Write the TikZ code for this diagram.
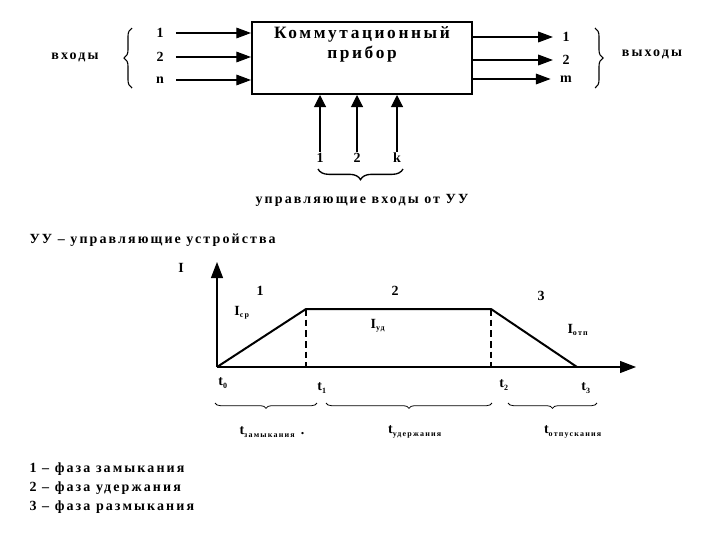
\documentclass[tikz,border=0pt]{standalone}
\usepackage{fontspec}
\setmainfont{Liberation Serif}[LetterSpace=15]
\usetikzlibrary{arrows.meta,positioning,decorations.pathreplacing}
\newcommand{\tsub}[1]{\textsubscript{\fontsize{6}{7}\selectfont #1}}
\tikzset{
  lbl/.style={font=\bfseries\fontsize{10.5}{12}\selectfont, inner sep=1pt},
  ttl/.style={font=\bfseries\fontsize{13}{15}\selectfont, align=center, inner sep=1pt},
  dev/.style={draw, line width=1.5pt, rectangle, minimum width=165pt, minimum height=54pt},
  arr/.style={-{Triangle[length=11pt,width=8pt]}, line width=0.8pt},
  carr/.style={-{Triangle[length=9pt,width=9pt]}, line width=0.8pt},
  axis/.style={-{Triangle[length=12pt,width=9pt]}, line width=0.8pt},
  curve/.style={line width=1.5pt},
  dsh/.style={dashed, line width=1.5pt, dash pattern=on 5pt off 3pt},
  brc/.style={decorate, decoration={brace, amplitude=6pt}, line width=0.8pt},
  cbrc/.style={decorate, decoration={brace, amplitude=8pt}, line width=1pt},
  sbrc/.style={decorate, decoration={brace, amplitude=4pt}, line width=0.6pt},
}
\begin{document}
\begin{tikzpicture}[x=0.75pt,y=-0.75pt]
\useasboundingbox (0,0) rectangle (720,540);
% switching device
\node[dev] (dev) at (362,58) {};
\node[ttl, below=3pt of dev.north] (devt) {Коммутационный\\прибор};
% inputs
\foreach \y/\t [count=\i] in {33/1,57/2,80/n} {
  \node[lbl] (in\i) at (160,\y) {\t};
  \draw[arr] ([xshift=8pt]in\i.east) -- (dev.west |- in\i);
}
\draw[brc] (132,88) -- (132,28);
\node[lbl] (inl) at (75,57) {входы};
% outputs
\foreach \y/\t [count=\i] in {37/1,60/2,79/m} {
  \node[lbl] (out\i) at (566,\y) {\t};
  \draw[arr] (dev.east |- out\i) -- ([xshift=-6pt]out\i.west);
}
\draw[brc] (595,28) -- (595,88);
\node[lbl] (outl) at (652,54) {выходы};
% control inputs
\foreach \x/\t [count=\i] in {320/1,357/2,397/k} {
  \node[lbl] (c\i) at (\x,158) {\t};
  \draw[carr] (c\i.north) -- (dev.south -| c\i);
}
\draw[cbrc] (403,169) -- (318,169);
\node[lbl] (cl) at (362,200) {управляющие входы от УУ};
\node[lbl, anchor=west] (uu) at (28,240) {УУ -- управляющие устройства};
% current diagram
\coordinate (o) at (217,367);
\coordinate (p1) at (306,309);
\coordinate (p2) at (491,309);
\coordinate (p3) at (577,367);
\draw[axis] (o) -- (217,262);
\draw[axis] (o) -- (636,367);
\draw[curve] (o) -- (p1) -- (p2) -- (p3);
\draw[dsh] (p1) -- (p1 |- o);
\draw[dsh] (p2) -- (p2 |- o);
\node[lbl] (il) at (181,268) {I};
\node[lbl] (ph1) at (260,291) {1};
\node[lbl] (ph2) at (395,291) {2};
\node[lbl] (ph3) at (541,296) {3};
\node[lbl] (isr) at (242,313) {I\tsub{ср}};
\node[lbl] (iud) at (378,326) {I\tsub{уд}};
\node[lbl] (iot) at (578,330) {I\tsub{отп}};
\node[lbl] (t0) at (223,383) {t\tsub{0}};
\node[lbl] (t1) at (322,388) {t\tsub{1}};
\node[lbl] (t2) at (504,385) {t\tsub{2}};
\node[lbl] (t3) at (586,388) {t\tsub{3}};
\draw[sbrc] (317,403) -- (215,403);
\draw[sbrc] (492,403) -- (326,403);
\draw[sbrc] (597,403) -- (508,403);
\node[lbl] (tz) at (272,432) {t\tsub{замыкания} .};
\node[lbl] (tu) at (415,432) {t\tsub{удержания}};
\node[lbl] (to) at (573,432) {t\tsub{отпускания}};
% legend
\node[lbl, anchor=west] (lg1) at (28,469) {1 -- фаза замыкания};
\node[lbl, anchor=west] (lg2) at (28,488) {2 -- фаза удержания};
\node[lbl, anchor=west] (lg3) at (28,507) {3 -- фаза размыкания};
\end{tikzpicture}
\end{document}
